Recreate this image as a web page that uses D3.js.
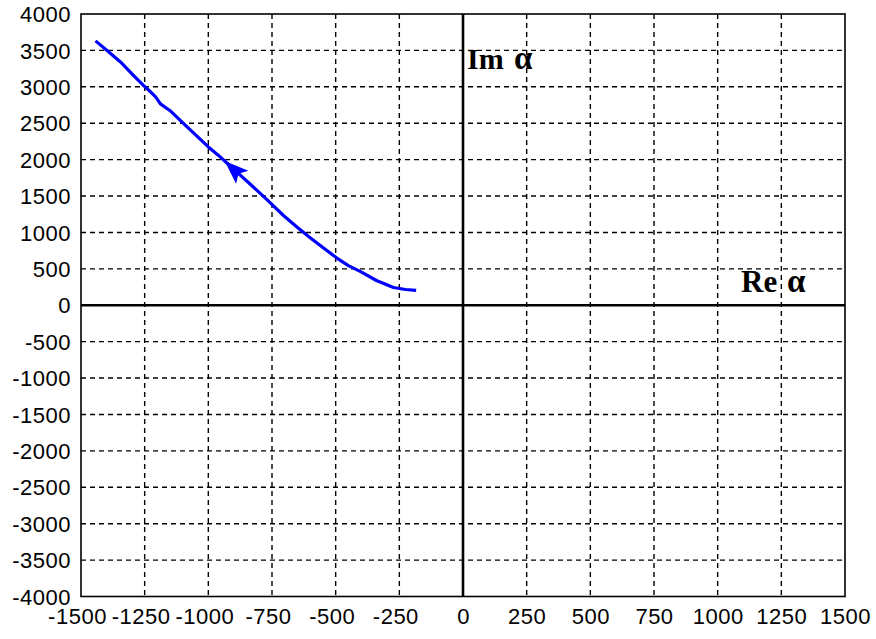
<!DOCTYPE html>
<html>
<head>
<meta charset="utf-8">
<script src="https://cdn.jsdelivr.net/npm/d3@7"></script>
<style>
  html, body { margin: 0; padding: 0; background: #fff; }
  svg { display: block; }
</style>
</head>
<body>
<script>
// Trajectory of alpha in the complex plane (Re alpha, Im alpha)
const reValues = [-1443, -1400, -1345, -1300, -1255, -1225, -1207, -1188, -1150, -1098, -1050, -1000, -960, -926, -880, -834, -775, -705, -650, -599, -545, -494, -450, -402, -340, -273, -226, -184];
const imValues = [3631, 3505, 3341, 3178, 3019, 2925, 2861, 2765, 2672, 2497, 2340, 2174, 2058, 1950, 1805, 1659, 1467, 1233, 1068, 924, 778, 645, 545, 461, 340, 244, 216, 205];

// Direction arrow on the curve (tip and a point behind it)
const arrowTip = [-936, 1982];
const arrowBack = [-880, 1800];

const xTicks = [-1500, -1250, -1000, -750, -500, -250, 0, 250, 500, 750, 1000, 1250, 1500];
const yTicks = [-4000, -3500, -3000, -2500, -2000, -1500, -1000, -500, 0, 500, 1000, 1500, 2000, 2500, 3000, 3500, 4000];

const W = 876, H = 639;
const plotLeft = 81, plotRight = 845, plotTop = 14, plotBottom = 596.5;

const svg = d3.select("body").append("svg").attr("width", W).attr("height", H);

const x = d3.scaleLinear().domain([-1500, 1500]).range([plotLeft, plotRight]);
const y = d3.scaleLinear().domain([-4000, 4000]).range([plotBottom, plotTop]);

// dashed grid
const grid = svg.append("g");
grid.selectAll("line.gx").data(xTicks.filter(d => d > -1500 && d < 1500 && d !== 0)).enter()
  .append("line").attr("x1", d => x(d)).attr("x2", d => x(d)).attr("y1", plotTop).attr("y2", plotBottom)
  .attr("stroke", "#000").attr("stroke-width", 1.4).attr("stroke-dasharray", "5,4");
grid.selectAll("line.gy").data(yTicks.filter(d => d > -4000 && d < 4000 && d !== 0)).enter()
  .append("line").attr("y1", d => y(d)).attr("y2", d => y(d)).attr("x1", plotLeft).attr("x2", plotRight)
  .attr("stroke", "#000").attr("stroke-width", 1.4).attr("stroke-dasharray", "5,4");

// frame
svg.append("rect").attr("x", plotLeft).attr("y", plotTop).attr("width", plotRight - plotLeft).attr("height", plotBottom - plotTop)
  .attr("fill", "none").attr("stroke", "#000").attr("stroke-width", 1.6);

// coordinate axes through the origin
svg.append("line").attr("x1", x(0)).attr("x2", x(0)).attr("y1", plotTop).attr("y2", plotBottom)
  .attr("stroke", "#000").attr("stroke-width", 2.6);
svg.append("line").attr("x1", plotLeft).attr("x2", plotRight).attr("y1", y(0)).attr("y2", y(0))
  .attr("stroke", "#000").attr("stroke-width", 2.6);

// tick labels (plain hyphen as minus sign)
const axisFont = "'Liberation Sans', Arial, sans-serif";
const fmt = d => String(d);
const yAxis = d3.axisLeft(y).tickValues(yTicks).tickSize(0).tickPadding(10).tickFormat(fmt);
const gy = svg.append("g").attr("transform", `translate(${plotLeft},0)`).call(yAxis);
gy.select(".domain").remove();
gy.selectAll("text").attr("font-family", axisFont).attr("font-size", 22).attr("fill", "#000")
  .attr("letter-spacing", 0.5).attr("dy", "0.35em");

const xAxis = d3.axisBottom(x).tickValues(xTicks).tickSize(0).tickPadding(12).tickFormat(fmt);
const gx = svg.append("g").attr("transform", `translate(0,${plotBottom})`).call(xAxis);
gx.select(".domain").remove();
gx.selectAll("text").attr("font-family", axisFont).attr("font-size", 22).attr("fill", "#000")
  .attr("letter-spacing", 0.5).attr("dx", d => d < 0 ? -4 : 0);

// curve
const pts = reValues.map((r, i) => [r, imValues[i]]);
const line = d3.line().x(d => x(d[0])).y(d => y(d[1]));
svg.append("path").attr("d", line(pts)).attr("fill", "none").attr("stroke", "#0000ff")
  .attr("stroke-width", 3.2).attr("stroke-linejoin", "round");

// arrow head
const tx = x(arrowTip[0]), ty = y(arrowTip[1]);
const bx = x(arrowBack[0]), by = y(arrowBack[1]);
const ang = Math.atan2(ty - by, tx - bx);
const len = 24, half = 9, notch = 19;
const ux = Math.cos(ang), uy = Math.sin(ang);
const px = -uy, py = ux;
const head = [
  [tx, ty],
  [tx - ux * len + px * half, ty - uy * len + py * half],
  [tx - ux * notch, ty - uy * notch],
  [tx - ux * len - px * half, ty - uy * len - py * half]
];
svg.append("path").attr("d", "M" + head.map(p => p.join(",")).join("L") + "Z").attr("fill", "#0000ff");

// axis names
const serif = "'Liberation Serif', 'Times New Roman', serif";
const imText = svg.append("text").attr("y", 69).attr("font-family", serif).attr("font-weight", "bold")
  .attr("font-size", 30).attr("fill", "#000");
imText.append("tspan").attr("x", 467).text("Im");
imText.append("tspan").attr("x", 514).attr("font-size", 33).text("α");

const reText = svg.append("text").attr("y", 291.5).attr("font-family", serif).attr("font-weight", "bold")
  .attr("font-size", 31).attr("fill", "#000");
reText.append("tspan").attr("x", 741).text("Re");
reText.append("tspan").attr("x", 787).attr("font-size", 33).text("α");
</script>
</body>
</html>
